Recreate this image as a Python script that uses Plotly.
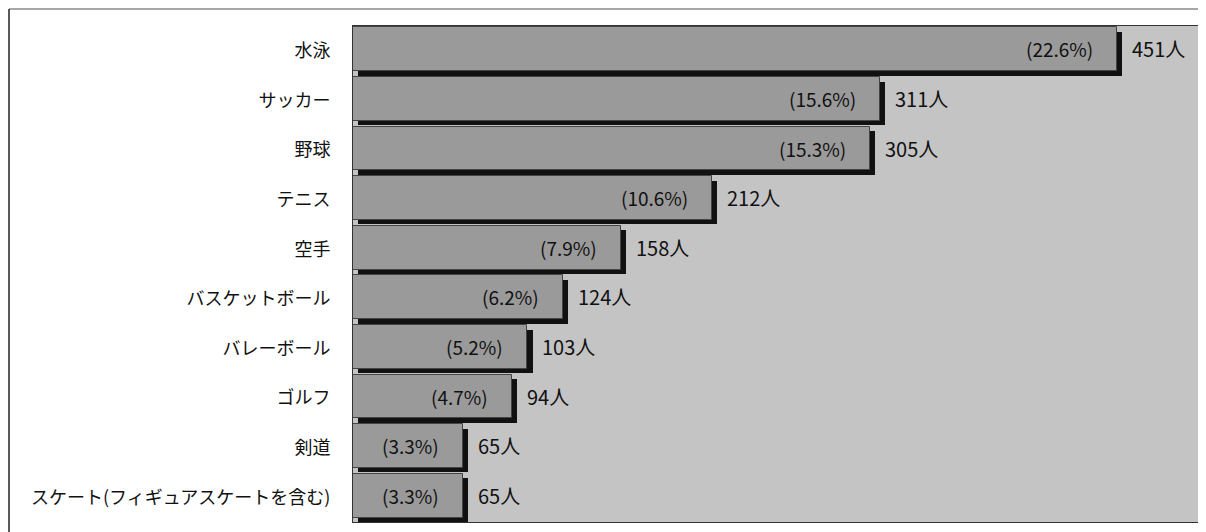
import plotly.graph_objects as go

categories = ["水泳", "サッカー", "野球", "テニス", "空手", "バスケットボール",
              "バレーボール", "ゴルフ", "剣道", "スケート(フィギュアスケートを含む)"]
counts = [451, 311, 305, 212, 158, 124, 103, 94, 65, 65]
percents = ["22.6%", "15.6%", "15.3%", "10.6%", "7.9%", "6.2%", "5.2%", "4.7%", "3.3%", "3.3%"]
x_max = 500
shadow_shift = 3  # in data units, visual drop shadow

FONT = "Noto Sans CJK JP"

fig = go.Figure()

# drop shadow bars
fig.add_trace(go.Bar(
    y=categories, x=counts, base=shadow_shift, orientation="h",
    width=0.88, offset=-0.38,
    marker=dict(color="#111111", line=dict(width=0)),
    hoverinfo="skip", showlegend=False,
))
# main bars
fig.add_trace(go.Bar(
    y=categories, x=counts, orientation="h",
    width=0.88, offset=-0.47,
    marker=dict(color="#9a9a9a", line=dict(color="#444444", width=1)),
    showlegend=False,
))

annotations = []
for c, v, p in zip(categories, counts, percents):
    annotations.append(dict(
        x=v, y=c, xref="x", yref="y", text="(" + p + ")",
        showarrow=False, xanchor="right", xshift=-22, yshift=2,
        font=dict(family=FONT, size=19, color="#111111"),
    ))
    annotations.append(dict(
        x=v, y=c, xref="x", yref="y", text=f"{v}人",
        showarrow=False, xanchor="left", xshift=13, yshift=2,
        font=dict(family=FONT, size=20, color="#111111"),
    ))

# page body has an 8px margin; compensate so the plot lands where the reference has it
OFF = 8
L, R, T, B = 353 - OFF, 6, 26 - OFF, 10
W, H = 1206 - OFF, 532 - OFF
pw, ph = W - L - R, H - T - B
fx0 = (1 - L) / pw          # frame line ~1px inside the figure's left edge
fy1 = 1 + (T - 1) / ph      # frame line ~1px inside the figure's top edge
shapes = [
    dict(type="line", xref="paper", yref="paper", x0=fx0, x1=(W - L) / pw, y0=fy1, y1=fy1,
         line=dict(color="#8a8a8a", width=1.5)),
    dict(type="line", xref="paper", yref="paper", x0=fx0, x1=fx0, y0=fy1, y1=-B / ph,
         line=dict(color="#222222", width=1.5)),
]

fig.update_layout(
    width=W, height=H,
    margin=dict(l=L, r=R, t=T, b=B),
    paper_bgcolor="white",
    plot_bgcolor="#c4c4c4",
    barmode="overlay",
    bargap=0,
    font=dict(family=FONT, size=18, color="#111111"),
    annotations=annotations,
    shapes=shapes,
    xaxis=dict(range=[0, x_max], showticklabels=False, showgrid=False, zeroline=False,
               showline=True, mirror=True, linecolor="#333333", linewidth=1, ticks=""),
    yaxis=dict(categoryorder="array", categoryarray=categories, range=[9.5, -0.5],
               showgrid=False, zeroline=False, showline=True, mirror=True,
               linecolor="#333333", linewidth=1, ticks="", ticklabelstandoff=18,
               tickfont=dict(family=FONT, size=18, color="#111111")),
)

fig.write_html("out.html")
